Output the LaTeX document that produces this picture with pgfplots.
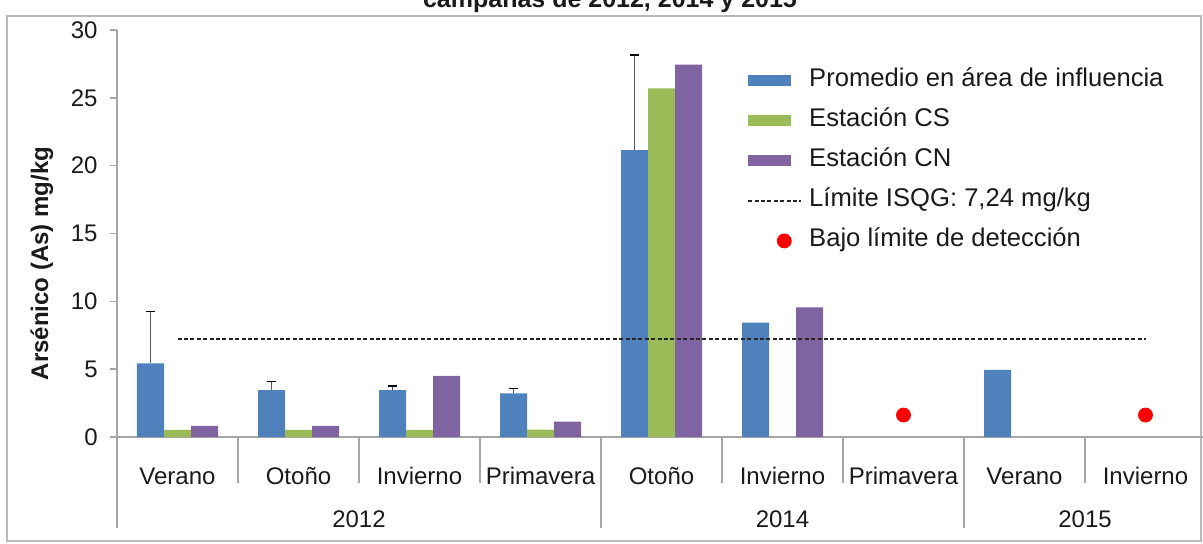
\documentclass[border=0pt]{standalone}
\usepackage{fontspec}
\setmainfont{Liberation Sans}
\usepackage{pgfplots}
\pgfplotsset{compat=1.18}

\definecolor{cblue}{HTML}{4F81BD}
\definecolor{cgreen}{HTML}{9BBB59}
\definecolor{cpurple}{HTML}{8064A2}
\definecolor{axisgray}{HTML}{A6A6A6}
\definecolor{txt}{HTML}{1A1A1A}

\pgfplotsset{
  barleg/.style={legend image code/.code={\fill[##1] (0pt,-2.75pt) rectangle (21.5pt,2.75pt);}},
  lineleg/.style={legend image code/.code={\draw[##1] (0pt,0pt) -- (26.5pt,0pt);}},
  dotleg/.style={legend image code/.code={\draw[##1] plot coordinates {(18pt,0pt)};}},
}

\begin{document}
\fontsize{12}{14}\selectfont
\begin{tikzpicture}
% outer chart frame and (cut) title
\draw[gray!55, line width=0.8pt] (-55pt,-52pt) rectangle (542pt,210.5pt);
\node[anchor=base, font=\bfseries\fontsize{12.5}{14}\selectfont, text=txt] at (246.5pt,215pt) {campañas de 2012, 2014 y 2015};

\begin{axis}[
  name=ax, at={(0,0)}, anchor=south west,
  scale only axis, width=544.5pt, height=203.5pt,
  xmin=-0.5, xmax=8.5, ymin=0, ymax=30,
  clip=false,
  axis x line*=bottom, axis y line*=left,
  axis line style={axisgray, line width=0.8pt},
  xtick={0,...,8},
  xticklabels={Verano,Otoño,Invierno,Primavera,Otoño,Invierno,Primavera,Verano,Invierno},
  xtick style={draw=none},
  xticklabel style={anchor=base, yshift=-20pt, text=txt},
  ytick={0,5,...,30},
  ytick style={axisgray, line width=0.8pt},
  tick align=outside, major tick length=3.5pt,
  yticklabel style={text=txt, xshift=-2pt},
  /pgf/number format/assume math mode=true,
  ylabel={Arsénico (As) mg/kg},
  ylabel style={at={(axis description cs:-0.0689,0.426)}, anchor=center, font=\bfseries, text=txt},
  legend style={at={(0.5785,0.925)}, anchor=north west, draw=none, fill=none,
    inner sep=0pt, row sep=0pt, text=txt, font=\fontsize{12.8}{15}\selectfont,
    nodes={text height=9pt, text depth=3pt, inner ysep=4pt, inner xsep=3.5pt}},
  legend cell align=left,
]
% Promedio en área de influencia
\addplot[ybar, bar width=13.5pt, bar shift=-13.5pt, fill=cblue, draw=none, barleg]
  coordinates {(0,5.43) (1,3.46) (2,3.46) (3,3.22) (4,21.15) (5,8.43) (7,4.94)};
\addlegendentry{Promedio en área de influencia}
\addplot[ybar, bar width=13.5pt, bar shift=0pt, fill=cgreen, draw=none, barleg]
  coordinates {(0,0.52) (1,0.52) (2,0.52) (3,0.55) (4,25.7)};
\addlegendentry{Estación CS}
\addplot[ybar, bar width=13.5pt, bar shift=13.5pt, fill=cpurple, draw=none, barleg]
  coordinates {(0,0.83) (1,0.83) (2,4.5) (3,1.13) (4,27.45) (5,9.56)};
\addlegendentry{Estación CN}
\addplot[black!85, line width=0.9pt, dash pattern=on 2pt off 1.2pt, lineleg]
  coordinates {(0,7.24) (8,7.24)};
\addlegendentry{Límite ISQG: 7,24 mg/kg}
\addplot[only marks, mark=*, mark size=3.5pt, red, mark options={draw=red, fill=red}, dotleg]
  coordinates {(6,1.62) (8,1.62)};
\addlegendentry{Bajo límite de detección}
% desviación del promedio (x en el centro de la barra azul: i - 13.5pt/60.5pt)
\addplot[only marks, mark=text, text mark={}, forget plot,
  error bars/.cd, y dir=plus, y explicit,
  error bar style={black!65, line width=0.8pt},
  error mark options={rotate=90, black, line width=0.8pt, mark size=2.2pt}]
  coordinates {(-0.2231,5.43) +- (0,3.81) (0.7769,3.46) +- (0,0.62) (1.7769,3.46) +- (0,0.30)
               (2.7769,3.22) +- (0,0.37) (3.7769,21.15) +- (0,7.00)};

% category separators
\pgfplotsinvokeforeach{0.5,1.5,2.5,4.5,5.5,7.5}{
  \draw[axisgray, line width=0.8pt] (axis cs:#1,0) -- ++(0pt,-23pt);
}
\pgfplotsinvokeforeach{-0.5,3.5,6.5}{
  \draw[axisgray, line width=0.8pt] (axis cs:#1,0) -- ++(0pt,-45.5pt);
}
\node[anchor=base, text=txt] at (axis cs:1.5,0) [yshift=-45pt] {2012};
\node[anchor=base, text=txt] at (axis cs:5,0) [yshift=-45pt] {2014};
\node[anchor=base, text=txt] at (axis cs:7.5,0) [yshift=-45pt] {2015};
\end{axis}
\pgfresetboundingbox
\useasboundingbox (-58.5pt,-53pt) rectangle (543pt,218.5pt);
\end{tikzpicture}
\end{document}
